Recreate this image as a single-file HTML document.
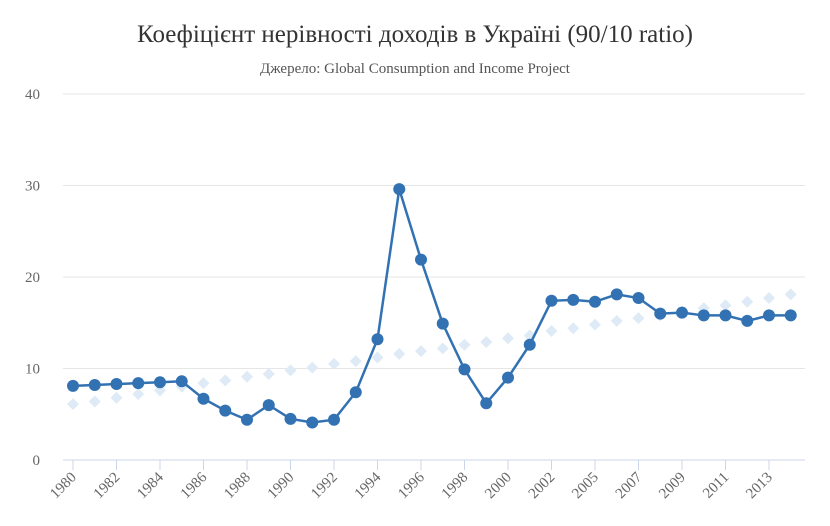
<!DOCTYPE html>
<html><head><meta charset="utf-8">
<style>
html,body{margin:0;padding:0;background:#fff;}
svg{display:block;font-family:"Liberation Serif",serif;}
</style></head>
<body>
<svg id="chart" width="830" height="526" viewBox="0 0 830 526">
<text x="415" y="42" text-anchor="middle" font-size="25" fill="#333">Коефіцієнт нерівності доходів в Україні (90/10 ratio)</text>
<text x="415" y="73" text-anchor="middle" font-size="15" fill="#555">Джерело: Global Consumption and Income Project</text>
<g id="grid"></g><g id="xaxis"></g><g id="series2"></g><g id="series1"></g>
</svg>
<script>
const categories=["1980","1981","1982","1983","1984","1985","1986","1987","1988","1989","1990","1991","1992","1993","1994","1995","1996","1997","1998","1999","2000","2001","2002","2003","2005","2006","2007","2008","2009","2010","2011","2012","2013","2014"];
const ratioValues=[8.1,8.2,8.3,8.4,8.5,8.6,6.7,5.4,4.4,6.0,4.5,4.1,4.4,7.4,13.2,29.6,21.9,14.9,9.9,6.2,9.0,12.6,17.4,17.5,17.3,18.1,17.7,16.0,16.1,15.8,15.8,15.2,15.8,15.8];
const trendValues=[6.1,6.4,6.8,7.2,7.6,8.0,8.4,8.7,9.1,9.4,9.8,10.1,10.5,10.8,11.2,11.6,11.9,12.2,12.6,12.9,13.3,13.6,14.1,14.4,14.8,15.2,15.5,15.8,16.2,16.6,16.9,17.3,17.7,18.1];
const yTicks=[0,10,20,30,40];
const NS="http://www.w3.org/2000/svg";
const X0=73,STEP=21.75,Y0=460,YS=9.15,LEFT=63,RIGHT=805;
const xs=i=>X0+i*STEP, ys=v=>Y0-v*YS;
function mk(tag,attrs,parent){const e=document.createElementNS(NS,tag);for(const k in attrs)e.setAttribute(k,attrs[k]);parent.appendChild(e);return e;}
const grid=document.getElementById('grid');
yTicks.forEach(t=>{
  const l=mk('line',{x1:LEFT,x2:RIGHT,y1:ys(t),y2:ys(t),stroke:t===0?'#ccd6eb':'#e6e6e6','stroke-width':1},grid);
  
  
  const tx=mk('text',{x:40,y:ys(t)+5,'text-anchor':'end','font-size':15,fill:'#666'},grid);
  tx.textContent=t;
  
  
});
const xa=document.getElementById('xaxis');
categories.forEach((c,i)=>{
  const x=xs(i);
  if(i%2===0){
    const tk=mk('line',{x1:x,x2:x,y1:Y0,y2:Y0+10,stroke:'#ccd6eb'},xa);
    
    
    const t=mk('text',{x:x+4,y:Y0+18,'text-anchor':'end','font-size':15,fill:'#666',transform:`rotate(-45 ${x+4} ${Y0+18})`},xa);
    t.textContent=c;
    
    
  }
});
const s2=document.getElementById('series2');
trendValues.forEach((v,i)=>{
  const x=xs(i),y=ys(v),r=6;
  const d=mk('path',{d:`M${x} ${y-r}L${x+r} ${y}L${x} ${y+r}L${x-r} ${y}Z`,fill:'#deebf7'},s2);
  
  
});
const s1=document.getElementById('series1');
const line=mk('path',{d:ratioValues.map((v,i)=>(i?'L':'M')+xs(i)+' '+ys(v)).join(''),fill:'none',stroke:'#3272b2','stroke-width':2.5},s1);


ratioValues.forEach((v,i)=>{
  const c=mk('circle',{cx:xs(i),cy:ys(v),r:6,fill:'#3272b2'},s1);
  
  
});
</script>
</body></html>
